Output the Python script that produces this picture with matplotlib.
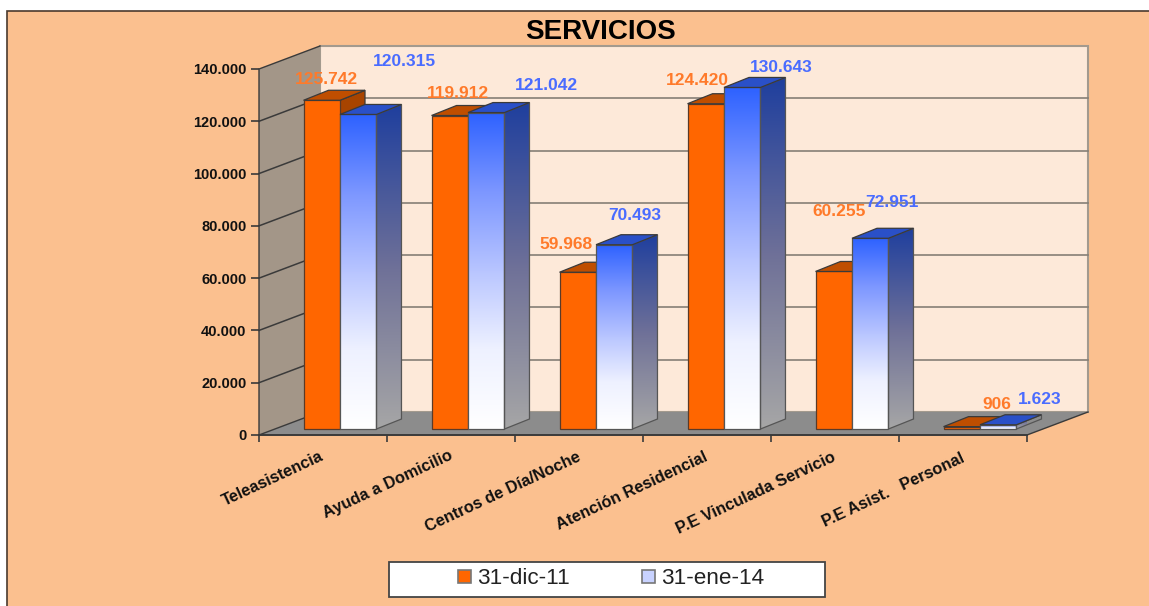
#!/usr/bin/env python3
"""SERVICIOS: two-date comparison drawn as Excel-style 3D clustered bars."""

import matplotlib
matplotlib.use("Agg")
import matplotlib.pyplot as plt
import numpy as np
from matplotlib.colors import LinearSegmentedColormap
from matplotlib.lines import Line2D
from matplotlib.patches import Patch, Polygon, Rectangle
from matplotlib.transforms import Affine2D

WIDTH, HEIGHT = 1149, 606

TITLE = "SERVICIOS"
CATEGORIES = ["Teleasistencia", "Ayuda a Domicilio", "Centros de Día/Noche",
              "Atención Residencial", "P.E Vinculada Servicio",
              "P.E Asist.   Personal"]
SERIES_NAMES = ["31-dic-11", "31-ene-14"]
DIC_11 = [125742, 119912, 59968, 124420, 60255, 906]
ENE_14 = [120315, 121042, 70493, 130643, 72951, 1623]
Y_TICKS = [0, 20000, 40000, 60000, 80000, 100000, 120000, 140000]

BG = "#FBC08F"
WALL_BACK = "#FDE9D9"
WALL_LEFT = "#A39688"
FLOOR = "#8C8C8C"
EDGE = "#3A3A3A"
ORANGE = "#FF6600"
ORANGE_TOP = "#BF4E00"
ORANGE_SIDE = "#A84400"
BLUE_TOP = "#2A50C8"
LABEL_ORANGE = "#FF7A2A"
LABEL_BLUE = "#4A6CFF"

FONT = "Liberation Sans"

# 3D look, all in pixels
DEPTH = (61, 23)       # front of floor to back wall
BAR_SHIFT = (17, 6)    # bars stand slightly back from the front edge
BAR_DEPTH = (25, 10)
BAR_W = 0.285          # in category units

# value label placement relative to the top of each bar (px right, px up)
DIC_LABEL_OFF = [(5, 21), (8, 22), (-12, 28), (-8, 23), (5, 60), (35, 22)]
ENE_LABEL_OFF = [(46, 53), (60, 27), (21, 29), (39, 20), (22, 36), (41, 25)]
XLABEL_OFF = [(0, -20), (1, -20), (1, -21), (0, -21), (0, -21), (1, -22)]


def y_label(v):
    return f"{v:,}".replace(",", ".")


fig = plt.figure(figsize=(WIDTH / 100, HEIGHT / 100), dpi=100, facecolor="white")
bg = Rectangle((7 / WIDTH, -0.01), 1, 1.01 - 11 / HEIGHT, transform=fig.transFigure,
               fc=BG, ec="#4A3A2E", lw=1.2, zorder=-5)
fig.add_artist(bg)

ax = fig.add_axes([259 / WIDTH, 1 - 435 / HEIGHT, 768 / WIDTH, 366 / HEIGHT])
ax.patch.set_visible(False)
ax.set_xlim(0, len(CATEGORIES))
ax.set_ylim(0, 140000)
for side in ax.spines.values():
    side.set_visible(False)


def shifted(dx, dy):
    return ax.transData + Affine2D().translate(dx, dy)


back = shifted(*DEPTH)
n = len(CATEGORIES)
ymax = Y_TICKS[-1]
dx, dy = DEPTH
ident = Affine2D()

# walls and floor
ax.add_patch(Polygon([(0, 0), (n, 0), (n, ymax), (0, ymax)], transform=back,
                     fc=WALL_BACK, ec="#A39A8E", lw=1.5, clip_on=False, zorder=1))
left_pts = ax.transData.transform([(0, 0), (0, ymax)])
ax.add_patch(Polygon([left_pts[0], left_pts[1], left_pts[1] + DEPTH, left_pts[0] + DEPTH],
                     transform=ident, fc=WALL_LEFT, ec="none", clip_on=False, zorder=1))
ax.add_line(Line2D(*np.transpose([left_pts[0], left_pts[1], left_pts[1] + DEPTH]),
                   transform=ident, color=EDGE, lw=1, clip_on=False, zorder=2))
floor_pts = ax.transData.transform([(0, 0), (n, 0)])
ax.add_patch(Polygon([floor_pts[0], floor_pts[1], floor_pts[1] + DEPTH, floor_pts[0] + DEPTH],
                     transform=ident, fc=FLOOR, ec="none", clip_on=False, zorder=1.5))
ax.plot([0, n], [0, 0], color=EDGE, lw=1.4, clip_on=False, zorder=2)
ax.add_line(Line2D(*np.transpose([floor_pts[1], floor_pts[1] + DEPTH]), transform=ident,
                   color=EDGE, lw=1, clip_on=False, zorder=2))
ax.add_line(Line2D(*np.transpose([floor_pts[0], floor_pts[0] + DEPTH]), transform=ident,
                   color=EDGE, lw=1, clip_on=False, zorder=2))

# gridlines
for v in Y_TICKS[1:-1]:
    ax.plot([0, n], [v, v], transform=back, color="#857F76", lw=1.2,
            clip_on=False, zorder=2)
    p = ax.transData.transform((0, v))
    ax.add_line(Line2D([p[0], p[0] + dx], [p[1], p[1] + dy], transform=ident,
                       color="#3A3A3A", lw=1.1, clip_on=False, zorder=2))

# ticks
ax.set_yticks(Y_TICKS)
ax.set_yticklabels([y_label(v) for v in Y_TICKS], fontfamily=FONT,
                   fontweight="bold", fontsize=10.5, color="#111111")
ax.tick_params(axis="y", length=6, width=1.2, color=EDGE, pad=3)
ax.set_xticks(range(n + 1))
ax.set_xticklabels([])
ax.tick_params(axis="x", length=5, width=1.2, color=EDGE)

blue_front = LinearSegmentedColormap.from_list(
    "bf", [(0, "#2E62FF"), (0.25, "#7D97FF"), (0.5, "#B8C5FF"), (0.75, "#EEF1FF"), (1, "#FFFFFF")])
blue_side = LinearSegmentedColormap.from_list(
    "bs", [(0, "#1F3F9E"), (0.5, "#6E7098"), (1, "#A6A6A6")])


def gradient_fill(pts, extent, cmap, trans, z):
    clip = Polygon(pts, transform=trans, fc="none", ec="none")
    ax.add_patch(clip)
    im = ax.imshow(np.linspace(0, 1, 128)[:, None], extent=extent, origin="upper",
                   cmap=cmap, aspect="auto", zorder=z, interpolation="bilinear")
    im.set_transform(trans)
    im.set_clip_path(clip)
    return im


def draw_bar(x0, x1, val, front, side, top, z):
    trans = shifted(*BAR_SHIFT)
    unit = n / 768  # px to category units
    ddx = BAR_DEPTH[0] * unit
    ddy = BAR_DEPTH[1] * ymax / 366
    front_pts = [(x0, 0), (x1, 0), (x1, val), (x0, val)]
    side_pts = [(x1, 0), (x1 + ddx, ddy), (x1 + ddx, val + ddy), (x1, val)]
    top_pts = [(x0, val), (x1, val), (x1 + ddx, val + ddy), (x0 + ddx, val + ddy)]
    edge = dict(transform=trans, clip_on=False, lw=0.9, zorder=z + 0.2)
    if isinstance(front, str):
        ax.add_patch(Polygon(side_pts, fc=side, ec=EDGE, **edge))
        ax.add_patch(Polygon(front_pts, fc=front, ec="#5A3A28", **edge))
    else:
        gradient_fill(side_pts, (x1, x1 + ddx, 0, val + ddy), side, trans, z + 0.1)
        gradient_fill(front_pts, (x0, x1, 0, val), front, trans, z + 0.1)
        ax.add_patch(Polygon(side_pts, fc="none", ec="#555555", **edge))
        ax.add_patch(Polygon(front_pts, fc="none", ec="#555555", **edge))
    ax.add_patch(Polygon(top_pts, fc=top, ec=EDGE, **edge))


label_kw = dict(textcoords="offset pixels", ha="center", va="center", fontfamily=FONT,
                fontweight="bold", fontsize=12.5, annotation_clip=False, zorder=20)

for i, (a, b) in enumerate(zip(DIC_11, ENE_14)):
    mid = i + 0.5
    draw_bar(mid - BAR_W, mid, a, ORANGE, ORANGE_SIDE, ORANGE_TOP, 3 + i)
    draw_bar(mid, mid + BAR_W, b, blue_front, blue_side, BLUE_TOP, 3.5 + i)
    sx, sy = BAR_SHIFT
    ax.annotate(y_label(a), (mid - BAR_W / 2, a), xytext=(sx + DIC_LABEL_OFF[i][0], sy + DIC_LABEL_OFF[i][1]),
                color=LABEL_ORANGE, **label_kw)
    ax.annotate(y_label(b), (mid + BAR_W / 2, b), xytext=(sx + ENE_LABEL_OFF[i][0], sy + ENE_LABEL_OFF[i][1]),
                color=LABEL_BLUE, **label_kw)
    ax.annotate(CATEGORIES[i], (mid, 0), xytext=XLABEL_OFF[i], textcoords="offset pixels",
                ha="right", va="center", rotation=25, rotation_mode="anchor",
                fontfamily=FONT, fontweight="bold", fontsize=11.8, color="#111111",
                annotation_clip=False)

ax.set_xlim(0, n)
ax.set_ylim(0, ymax)

fig.text(601 / WIDTH, 1 - 32 / HEIGHT, TITLE, ha="center", va="center",
         fontfamily=FONT, fontweight="bold", fontsize=20, color="black")

# legend: fixed white box with the entries laid on top
fig.add_artist(Rectangle((389 / WIDTH, 1 - 597 / HEIGHT), 436 / WIDTH, 35 / HEIGHT,
                         transform=fig.transFigure, fc="white", ec="#444444", lw=1.3))
handles = [Patch(fc=ORANGE, ec="#777777", lw=1.2), Patch(fc="#C8D2FF", ec="#777777", lw=1.2)]
fig.legend(handles, SERIES_NAMES, ncol=2, frameon=False, loc="center",
           bbox_to_anchor=(611 / WIDTH, 1 - 579 / HEIGHT),
           prop={"family": FONT, "size": 16.2}, handlelength=0.58, handleheight=0.55,
           handletextpad=0.27, columnspacing=3.2, labelcolor="#222222")

fig.savefig("out.png", dpi=100, facecolor="white")
